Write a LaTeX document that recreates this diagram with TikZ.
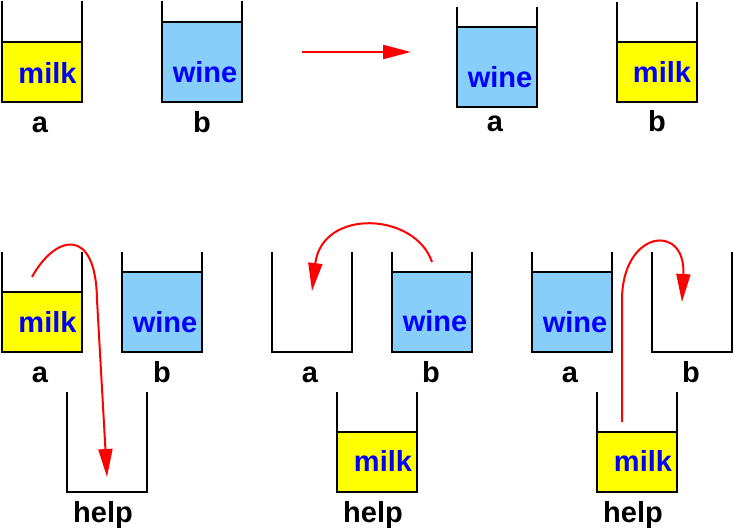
\documentclass[tikz,border=0pt]{standalone}
\usepackage{fontspec}
\setmainfont{Liberation Sans}
\usetikzlibrary{arrows.meta}
\definecolor{milkcol}{RGB}{255,255,0}
\definecolor{winecol}{RGB}{135,206,250}
\definecolor{textblue}{RGB}{0,0,255}
\definecolor{flowred}{RGB}{255,0,0}

\begin{document}
\begin{tikzpicture}[x=1pt,y=-1pt,
  wall/.style={draw=black, line width=2pt},
  liquid/.style={anchor=base, inner sep=0pt, text=textblue, font=\fontsize{29}{30}\selectfont\bfseries},
  cuplabel/.style={anchor=base, inner sep=0pt, font=\fontsize{29}{30}\selectfont\bfseries},
  flow/.style={draw=flowred, line width=2pt, -{Triangle[length=28pt,width=14pt]}}]
\useasboundingbox (0,0) rectangle (734,531);
% before swapping
\filldraw[wall, fill=milkcol] (2,42) rectangle (82,102);
\draw[wall] (2,1) -- (2,102) -- (82,102) -- (82,1);
\node[liquid] (milkA) at (47.5,83) {milk};
\node[cuplabel] (labA) at (40,132) {a};
\filldraw[wall, fill=winecol] (162,22) rectangle (242,102);
\draw[wall] (162,1) -- (162,102) -- (242,102) -- (242,1);
\node[liquid] (wineB) at (205,82) {wine};
\node[cuplabel] (labB) at (202,132) {b};
\coordinate (swapS) at (302,52);
\coordinate (swapE) at (411,52);
\draw[flow] (swapS) -- (swapE);
% after swapping
\filldraw[wall, fill=winecol] (457,27) rectangle (537,107);
\draw[wall] (457,7) -- (457,107) -- (537,107) -- (537,7);
\node[liquid] (wineA) at (500,87) {wine};
\node[cuplabel] (labA2) at (495,131) {a};
\filldraw[wall, fill=milkcol] (617,42) rectangle (697,102);
\draw[wall] (617,2) -- (617,102) -- (697,102) -- (697,2);
\node[liquid] (milkB) at (662,82) {milk};
\node[cuplabel] (labB2) at (657,131) {b};
% step 1: a into help
\filldraw[wall, fill=milkcol] (2,292) rectangle (82,352);
\draw[wall] (2,252) -- (2,352) -- (82,352) -- (82,252);
\node[liquid] (milkA3) at (47.5,332) {milk};
\node[cuplabel] (labA3) at (40,382) {a};
\filldraw[wall, fill=winecol] (122,272) rectangle (202,352);
\draw[wall] (122,252) -- (122,352) -- (202,352) -- (202,252);
\node[liquid] (wineB3) at (165,332) {wine};
\node[cuplabel] (labB3) at (162,382) {b};
\draw[wall] (67,392) -- (67,492) -- (147,492) -- (147,392);
\node[cuplabel] (labH3) at (103,522) {help};
\coordinate (pourS1) at (32,277);
\coordinate (pourE1) at (107,477);
\draw[flow] (pourS1) .. controls (55,235) and (96,225) .. (97,300) -- (pourE1);
% step 2: b into a
\draw[wall] (272,252) -- (272,352) -- (352,352) -- (352,252);
\node[cuplabel] (labA4) at (310,382) {a};
\filldraw[wall, fill=winecol] (392,272) rectangle (472,352);
\draw[wall] (392,252) -- (392,352) -- (472,352) -- (472,252);
\node[liquid] (wineB4) at (435,331) {wine};
\node[cuplabel] (labB4) at (431,382) {b};
\filldraw[wall, fill=milkcol] (337,432) rectangle (417,492);
\draw[wall] (337,392) -- (337,492) -- (417,492) -- (417,392);
\node[liquid] (milkH4) at (383,471) {milk};
\node[cuplabel] (labH4) at (373,522) {help};
\coordinate (pourS2) at (432,262);
\coordinate (pourE2) at (312,291);
\draw[flow] (pourS2) .. controls (415,212) and (322,208) .. (pourE2);
% step 3: help into b
\filldraw[wall, fill=winecol] (532,272) rectangle (612,352);
\draw[wall] (532,252) -- (532,352) -- (612,352) -- (612,252);
\node[liquid] (wineA5) at (575,332) {wine};
\node[cuplabel] (labA5) at (570,382) {a};
\draw[wall] (652,252) -- (652,352) -- (732,352) -- (732,252);
\node[cuplabel] (labB5) at (691,382) {b};
\filldraw[wall, fill=milkcol] (597,432) rectangle (677,492);
\draw[wall] (597,392) -- (597,492) -- (677,492) -- (677,392);
\node[liquid] (milkH5) at (643,471) {milk};
\node[cuplabel] (labH5) at (633,522) {help};
\coordinate (pourS3) at (622,422);
\coordinate (pourE3) at (682,302);
\draw[flow] (pourS3) -- (622,300) .. controls (622,230) and (686,222) .. (pourE3);
\end{tikzpicture}
\end{document}
